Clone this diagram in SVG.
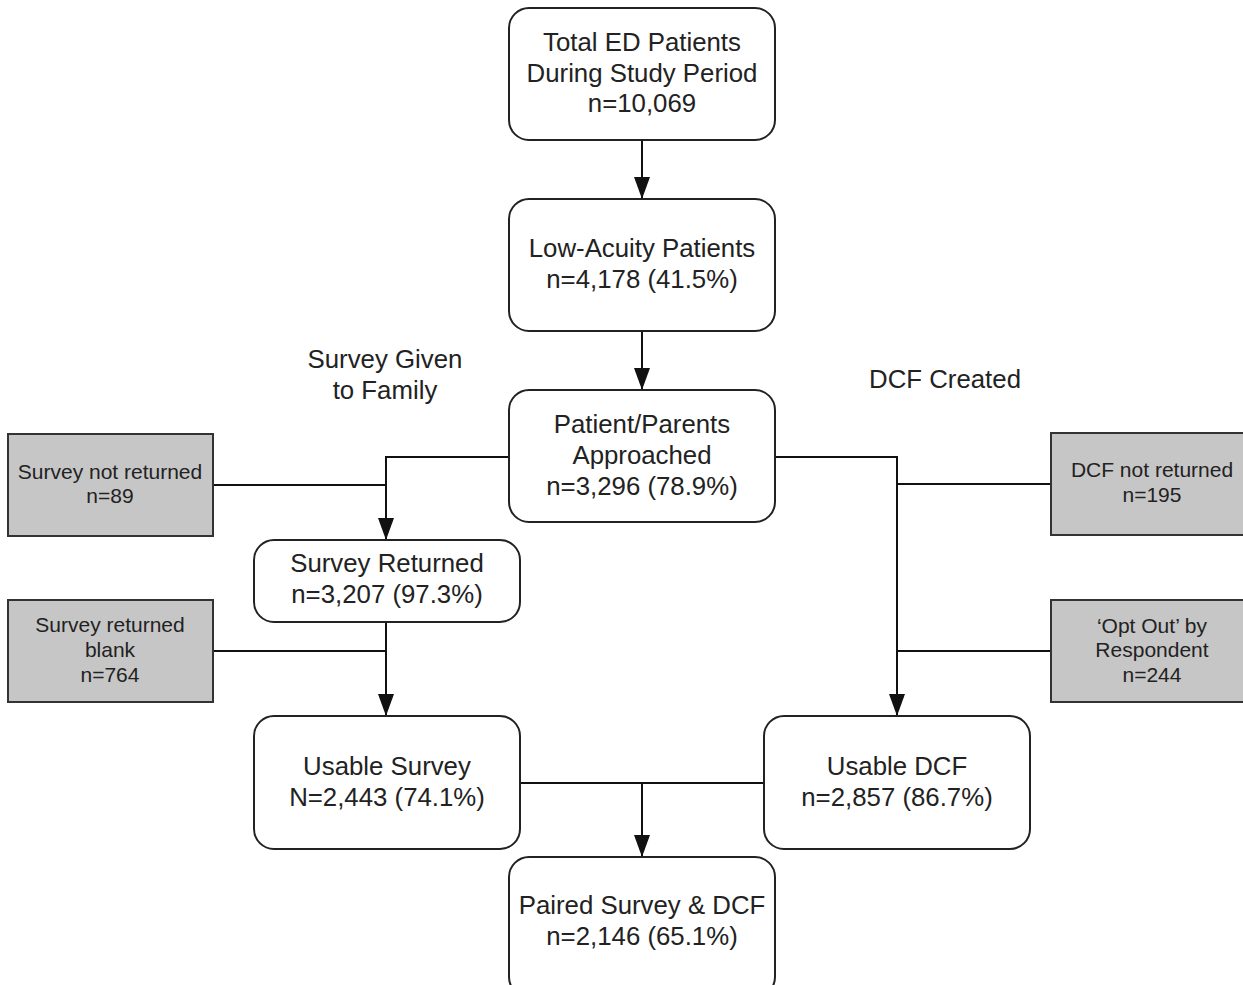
<svg xmlns="http://www.w3.org/2000/svg" width="1243" height="985" viewBox="0 0 1243 985">
<defs>
<marker id="arr" markerWidth="22" markerHeight="16" refX="22" refY="8" viewBox="0 0 22 16" markerUnits="userSpaceOnUse" orient="auto">
<path d="M0,0 L22,8 L0,16 Z" fill="#111"/>
</marker>
<style>
.box{fill:#fff;stroke:#222;stroke-width:2}
.gbox{fill:#c6c6c6;stroke:#333;stroke-width:2}
.t{font-family:"Liberation Sans",Arial,sans-serif;font-size:25.8px;fill:#222;text-anchor:middle}
.g{font-family:"Liberation Sans",Arial,sans-serif;font-size:21px;fill:#222;text-anchor:middle}
.c{fill:none;stroke:#111;stroke-width:2}
</style>
</defs>
<rect width="1243" height="985" fill="#fff"/>
<g id="connectors">
<path class="c" d="M642,140 V199" marker-end="url(#arr)"/>
<path class="c" d="M642,331 V390" marker-end="url(#arr)"/>
<path class="c" d="M509,457 H386 V540" marker-end="url(#arr)"/>
<path class="c" d="M213,485 H386"/>
<path class="c" d="M386,622 V716" marker-end="url(#arr)"/>
<path class="c" d="M213,651 H386"/>
<path class="c" d="M775,457 H897 V716" marker-end="url(#arr)"/>
<path class="c" d="M1051,484 H897"/>
<path class="c" d="M1051,651 H897"/>
<path class="c" d="M520,783 H764"/>
<path class="c" d="M642,783 V857" marker-end="url(#arr)"/>
</g>
<g id="total">
<rect class="box" x="509" y="8" width="266" height="132" rx="20"/>
<text class="t" x="642" y="51">Total ED Patients</text>
<text class="t" x="642" y="82">During Study Period</text>
<text class="t" x="642" y="112">n=10,069</text>
</g>
<g id="lowacuity">
<rect class="box" x="509" y="199" width="266" height="132" rx="20"/>
<text class="t" x="642" y="257">Low-Acuity Patients</text>
<text class="t" x="642" y="288">n=4,178 (41.5%)</text>
</g>
<g id="approached">
<rect class="box" x="509" y="390" width="266" height="132" rx="20"/>
<text class="t" x="642" y="433">Patient/Parents</text>
<text class="t" x="642" y="464">Approached</text>
<text class="t" x="642" y="495">n=3,296 (78.9%)</text>
</g>
<g id="label-survey-given">
<text class="t" x="385" y="368">Survey Given</text>
<text class="t" x="385" y="399">to Family</text>
</g>
<g id="label-dcf-created">
<text class="t" x="945" y="388">DCF Created</text>
</g>
<g id="survey-not-returned">
<rect class="gbox" x="8" y="434" width="205" height="102"/>
<text class="g" x="110" y="479">Survey not returned</text>
<text class="g" x="110" y="503">n=89</text>
</g>
<g id="survey-returned">
<rect class="box" x="254" y="540" width="266" height="82" rx="20"/>
<text class="t" x="387" y="572">Survey Returned</text>
<text class="t" x="387" y="603">n=3,207 (97.3%)</text>
</g>
<g id="survey-returned-blank">
<rect class="gbox" x="8" y="600" width="205" height="102"/>
<text class="g" x="110" y="632">Survey returned</text>
<text class="g" x="110" y="657">blank</text>
<text class="g" x="110" y="682">n=764</text>
</g>
<g id="dcf-not-returned">
<rect class="gbox" x="1051" y="433" width="205" height="102"/>
<text class="g" x="1152" y="477">DCF not returned</text>
<text class="g" x="1152" y="502">n=195</text>
</g>
<g id="opt-out">
<rect class="gbox" x="1051" y="600" width="205" height="102"/>
<text class="g" x="1152" y="633">‘Opt Out’ by</text>
<text class="g" x="1152" y="657">Respondent</text>
<text class="g" x="1152" y="682">n=244</text>
</g>
<g id="usable-survey">
<rect class="box" x="254" y="716" width="266" height="133" rx="20"/>
<text class="t" x="387" y="775">Usable Survey</text>
<text class="t" x="387" y="806">N=2,443 (74.1%)</text>
</g>
<g id="usable-dcf">
<rect class="box" x="764" y="716" width="266" height="133" rx="20"/>
<text class="t" x="897" y="775">Usable DCF</text>
<text class="t" x="897" y="806">n=2,857 (86.7%)</text>
</g>
<g id="paired">
<rect class="box" x="509" y="857" width="266" height="140" rx="20"/>
<text class="t" x="642" y="914">Paired Survey &amp; DCF</text>
<text class="t" x="642" y="945">n=2,146 (65.1%)</text>
</g>
</svg>
